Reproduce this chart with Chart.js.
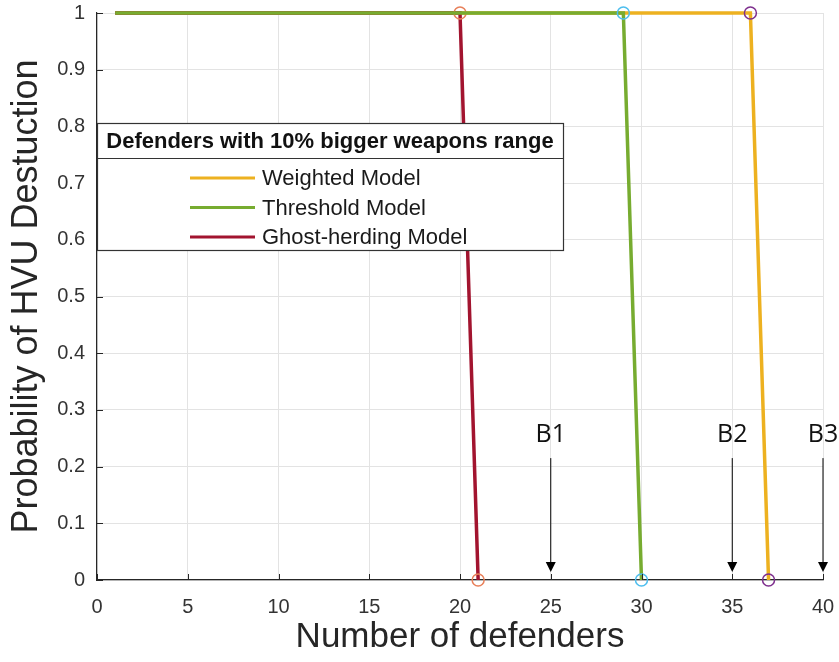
<!DOCTYPE html>
<html>
<head>
<meta charset="utf-8">
<script src="https://cdn.jsdelivr.net/npm/chart.js@4.4.1/dist/chart.umd.min.js"></script>
<style>
  html, body { margin: 0; padding: 0; background: #fff; }
  #wrap { width: 839px; height: 662px; }
</style>
</head>
<body>
<div id="wrap"><canvas id="LineChart"></canvas></div>
<script>
// values
const weightedX = [1, 36, 37];
const weightedY = [1, 1, 0];
const thresholdX = [1, 29, 30];
const thresholdY = [1, 1, 0];
const ghostX = [1, 20, 21];
const ghostY = [1, 1, 0];
const markerRadius = [0, 6, 6];

const arrowX = [25, 35, 40];
const arrowLabels = ['B1', 'B2', 'B3'];
const arrowTop = 0.215;
const arrowTip = 0.014;
const arrowLabelY = 0.243;

const legendTitle = 'Defenders with 10% bigger weapons range';
const axisColor = '#262626';

const toPoints = (xs, ys) => xs.map((x, i) => ({ x: x, y: ys[i] }));

// inward ticks like matlab
const innerTicks = {
    id: 'innerTicks',
    afterDatasetsDraw(chart) {
        const { ctx, chartArea, scales } = chart;
        ctx.save();
        ctx.strokeStyle = axisColor;
        ctx.lineWidth = 1;
        scales.x.ticks.forEach(t => {
            const px = Math.round(scales.x.getPixelForValue(t.value)) + 0.5;
            ctx.beginPath();
            ctx.moveTo(px, chartArea.bottom);
            ctx.lineTo(px, chartArea.bottom - 6);
            ctx.stroke();
        });
        scales.y.ticks.forEach(t => {
            const py = Math.round(scales.y.getPixelForValue(t.value)) + 0.5;
            ctx.beginPath();
            ctx.moveTo(chartArea.left, py);
            ctx.lineTo(chartArea.left + 6, py);
            ctx.stroke();
        });
        ctx.restore();
    }
};

const arrows = {
    id: 'arrows',
    afterDatasetsDraw(chart) {
        const { ctx, scales } = chart;
        ctx.save();
        arrowX.forEach((v, i) => {
            const px = scales.x.getPixelForValue(v);
            const top = scales.y.getPixelForValue(arrowTop);
            const tip = scales.y.getPixelForValue(arrowTip);
            ctx.strokeStyle = '#000';
            ctx.fillStyle = '#000';
            ctx.lineWidth = 1;
            ctx.beginPath();
            ctx.moveTo(px, top);
            ctx.lineTo(px, tip - 8);
            ctx.stroke();
            ctx.beginPath();
            ctx.moveTo(px - 5, tip - 10);
            ctx.lineTo(px + 5, tip - 10);
            ctx.lineTo(px, tip);
            ctx.closePath();
            ctx.fill();
            ctx.font = '25px "Open Sans"';
            ctx.textAlign = 'center';
            ctx.textBaseline = 'alphabetic';
            ctx.fillStyle = '#111';
            ctx.fillText(arrowLabels[i], px, scales.y.getPixelForValue(arrowLabelY));
        });
        ctx.restore();
    }
};

const boxLegend = {
    id: 'boxLegend',
    afterDraw(chart) {
        const { ctx, chartArea } = chart;
        const left = chartArea.left, top = 123, right = 563, bottom = 250, split = 158;
        ctx.save();
        ctx.fillStyle = '#fff';
        ctx.fillRect(left, top, right - left, bottom - top);
        ctx.strokeStyle = '#333';
        ctx.lineWidth = 1.2;
        ctx.strokeRect(left + 0.5, top + 0.5, right - left, bottom - top);
        ctx.beginPath();
        ctx.moveTo(left, split + 0.5);
        ctx.lineTo(right, split + 0.5);
        ctx.stroke();
        ctx.fillStyle = '#111';
        ctx.font = 'bold 22px "Liberation Sans"';
        ctx.textAlign = 'center';
        ctx.textBaseline = 'middle';
        ctx.fillText(legendTitle, (left + right) / 2, (top + split) / 2 + 1);
        ctx.font = '22px "Liberation Sans"';
        ctx.textAlign = 'left';
        chart.data.datasets.forEach((ds, i) => {
            const y = 178 + i * 29.5;
            ctx.strokeStyle = ds.borderColor;
            ctx.lineWidth = 3;
            ctx.beginPath();
            ctx.moveTo(190, y);
            ctx.lineTo(255, y);
            ctx.stroke();
            ctx.fillStyle = '#1a1a1a';
            ctx.fillText(ds.label, 262, y + 1);
        });
        ctx.restore();
    }
};

const ctxLine = document.getElementById('LineChart').getContext('2d');
new Chart(ctxLine, {
    type: 'line',
    data: {
        datasets: [{
            label: 'Weighted Model',
            data: toPoints(weightedX, weightedY),
            borderColor: '#EDB120',
            borderWidth: 3.5,
            pointRadius: markerRadius,
            pointBorderColor: '#7E2F8E',
            pointBackgroundColor: 'rgba(0,0,0,0)',
            pointBorderWidth: 1.5,
            order: 3,
            clip: false
        }, {
            label: 'Threshold Model',
            data: toPoints(thresholdX, thresholdY),
            borderColor: '#77AC30',
            borderWidth: 3.5,
            pointRadius: markerRadius,
            pointBorderColor: '#4DBEEE',
            pointBackgroundColor: 'rgba(0,0,0,0)',
            pointBorderWidth: 1.5,
            order: 1,
            clip: false
        }, {
            label: 'Ghost-herding Model',
            data: toPoints(ghostX, ghostY),
            borderColor: '#A2142F',
            borderWidth: 3.5,
            pointRadius: markerRadius,
            pointBorderColor: '#E8805A',
            pointBackgroundColor: 'rgba(0,0,0,0)',
            pointBorderWidth: 1.5,
            order: 2,
            clip: false
        }]
    },
    options: {
        responsive: true,
        maintainAspectRatio: false,
        animation: false,
        events: [],
        layout: { padding: { top: 13, right: 16, left: 0, bottom: 0 } },
        plugins: {
            legend: { display: false },
            tooltip: { enabled: false }
        },
        scales: {
            x: {
                type: 'linear',
                min: 0,
                max: 40,
                afterFit: s => { s.height = 82; s.paddingLeft = 0; s.paddingRight = 0; },
                ticks: { stepSize: 5, color: '#333', font: { family: 'Liberation Sans', size: 20 }, padding: 15, maxRotation: 0 },
                grid: { color: '#e3e3e3', tickLength: 0 },
                border: { display: true, color: axisColor, width: 1.2 },
                title: { display: true, text: 'Number of defenders', color: '#262626', font: { family: 'Liberation Sans', size: 35 }, padding: { top: 0, bottom: 4 } }
            },
            y: {
                min: 0,
                max: 1,
                afterFit: s => { s.width = 97; s.paddingTop = 0; s.paddingBottom = 0; },
                ticks: {
                    stepSize: 0.1, color: '#333', font: { family: 'Liberation Sans', size: 20 }, padding: 12,
                    callback: v => String(+v.toFixed(1))
                },
                grid: { color: '#e3e3e3', tickLength: 0 },
                border: { display: true, color: axisColor, width: 1.2 },
                title: { display: true, text: 'Probability of HVU Destuction', color: '#262626', font: { family: 'Liberation Sans', size: 36 }, padding: { top: 5, bottom: 0 } }
            }
        }
    },
    plugins: [innerTicks, arrows, boxLegend]
});
</script>
</body>
</html>
